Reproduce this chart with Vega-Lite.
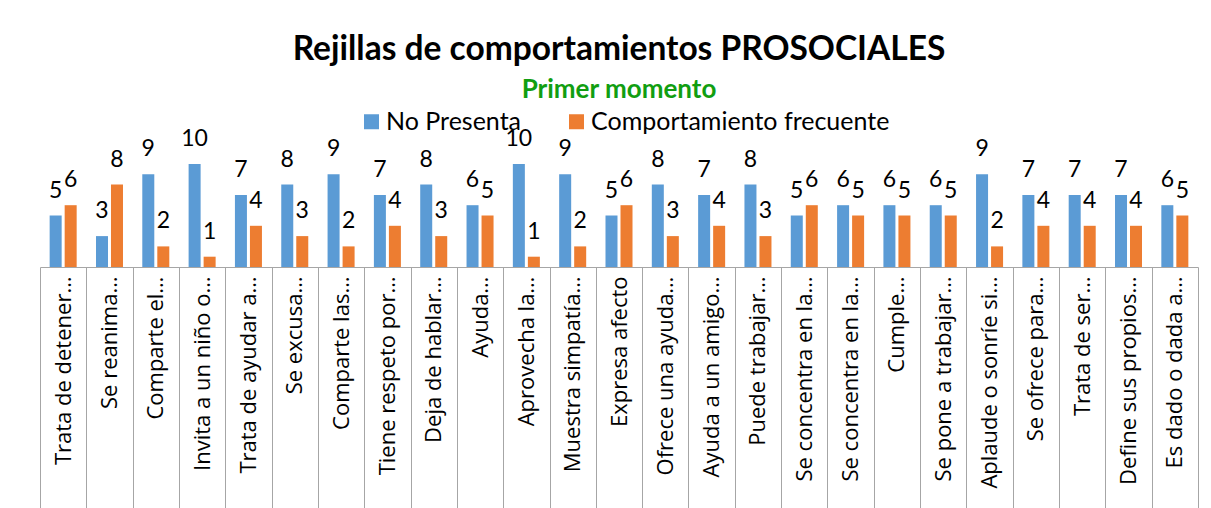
{
  "$schema": "https://vega.github.io/schema/vega-lite/v6.json",
  "width": 1158,
  "height": 103,
  "autosize": {"type": "none"},
  "padding": {"left": 40, "top": 164, "right": 13, "bottom": 241},
  "background": "white",
  "title": {
    "text": "Rejillas de comportamientos PROSOCIALES",
    "subtitle": "Primer momento",
    "font": "Lato",
    "fontSize": 33.5,
    "fontWeight": "bold",
    "color": "#000000",
    "subtitleFont": "Lato",
    "subtitleFontSize": 26,
    "subtitleFontWeight": "bold",
    "subtitleColor": "#119E11",
    "subtitlePadding": 10,
    "anchor": "middle",
    "offset": 5
  },
  "data": {
    "values": [
      {"item": "Trata de detener…", "No Presenta": 5, "Comportamiento frecuente": 6},
      {"item": "Se reanima…", "No Presenta": 3, "Comportamiento frecuente": 8},
      {"item": "Comparte el…", "No Presenta": 9, "Comportamiento frecuente": 2},
      {"item": "Invita a un niño o…", "No Presenta": 10, "Comportamiento frecuente": 1},
      {"item": "Trata de ayudar a…", "No Presenta": 7, "Comportamiento frecuente": 4},
      {"item": "Se excusa…", "No Presenta": 8, "Comportamiento frecuente": 3},
      {"item": "Comparte las…", "No Presenta": 9, "Comportamiento frecuente": 2},
      {"item": "Tiene respeto por…", "No Presenta": 7, "Comportamiento frecuente": 4},
      {"item": "Deja de hablar…", "No Presenta": 8, "Comportamiento frecuente": 3},
      {"item": "Ayuda…", "No Presenta": 6, "Comportamiento frecuente": 5},
      {"item": "Aprovecha la…", "No Presenta": 10, "Comportamiento frecuente": 1},
      {"item": "Muestra simpatía…", "No Presenta": 9, "Comportamiento frecuente": 2},
      {"item": "Expresa afecto", "No Presenta": 5, "Comportamiento frecuente": 6},
      {"item": "Ofrece una ayuda…", "No Presenta": 8, "Comportamiento frecuente": 3},
      {"item": "Ayuda a un amigo…", "No Presenta": 7, "Comportamiento frecuente": 4},
      {"item": "Puede trabajar…", "No Presenta": 8, "Comportamiento frecuente": 3},
      {"item": "Se concentra en la…", "No Presenta": 5, "Comportamiento frecuente": 6},
      {"item": "Se concentra en la…\u200b", "No Presenta": 6, "Comportamiento frecuente": 5},
      {"item": "Cumple…", "No Presenta": 6, "Comportamiento frecuente": 5},
      {"item": "Se pone a trabajar…", "No Presenta": 6, "Comportamiento frecuente": 5},
      {"item": "Aplaude o sonríe si…", "No Presenta": 9, "Comportamiento frecuente": 2},
      {"item": "Se ofrece para…", "No Presenta": 7, "Comportamiento frecuente": 4},
      {"item": "Trata de ser…", "No Presenta": 7, "Comportamiento frecuente": 4},
      {"item": "Define sus propios…", "No Presenta": 7, "Comportamiento frecuente": 4},
      {"item": "Es dado o dada a…", "No Presenta": 6, "Comportamiento frecuente": 5}
    ]
  },
  "transform": [
    {"fold": ["No Presenta", "Comportamiento frecuente"], "as": ["serie", "valor"]}
  ],
  "encoding": {
    "x": {
      "field": "item",
      "type": "nominal",
      "sort": null,
      "scale": {"paddingInner": 0, "paddingOuter": 0},
      "axis": {
        "title": null,
        "labelAngle": -90,
        "labelAlign": "right",
        "labelBaseline": "middle",
        "labelFont": "Open Sans",
        "labelFontSize": 22,
        "labelColor": "#000000",
        "labelLimit": 0,
        "labelPadding": -232,
        "tickSize": 241,
        "tickBand": "extent",
        "tickColor": "#A6A6A6",
        "tickWidth": 1,
        "domainColor": "#A6A6A6",
        "domainWidth": 1
      }
    },
    "xOffset": {
      "field": "serie",
      "type": "nominal",
      "sort": ["No Presenta", "Comportamiento frecuente"],
      "scale": {"paddingInner": 0.2, "paddingOuter": 0.643}
    },
    "y": {
      "field": "valor",
      "type": "quantitative",
      "scale": {"domain": [0, 10]},
      "axis": null
    }
  },
  "layer": [
    {
      "mark": {"type": "bar"},
      "encoding": {
        "color": {
          "field": "serie",
          "type": "nominal",
          "scale": {
            "domain": ["No Presenta", "Comportamiento frecuente"],
            "range": ["#5B9BD5", "#ED7D31"]
          },
          "legend": {
            "title": null,
            "orient": "none",
            "direction": "horizontal",
            "legendX": 319,
            "legendY": -55,
            "padding": 0,
            "symbolType": "square",
            "symbolSize": 225,
            "symbolStrokeWidth": 0,
            "labelFont": "Lato",
            "labelFontSize": 25,
            "labelColor": "#000000",
            "labelOffset": 2,
            "columnPadding": 42,
            "labelLimit": 0
          }
        }
      }
    },
    {
      "mark": {
        "type": "text",
        "baseline": "alphabetic",
        "align": "center",
        "dy": -18,
        "font": "Lato",
        "fontSize": 23,
        "color": "#000000"
      },
      "encoding": {
        "text": {"field": "valor", "type": "quantitative"}
      }
    }
  ],
  "config": {
    "view": {"stroke": null}
  }
}
